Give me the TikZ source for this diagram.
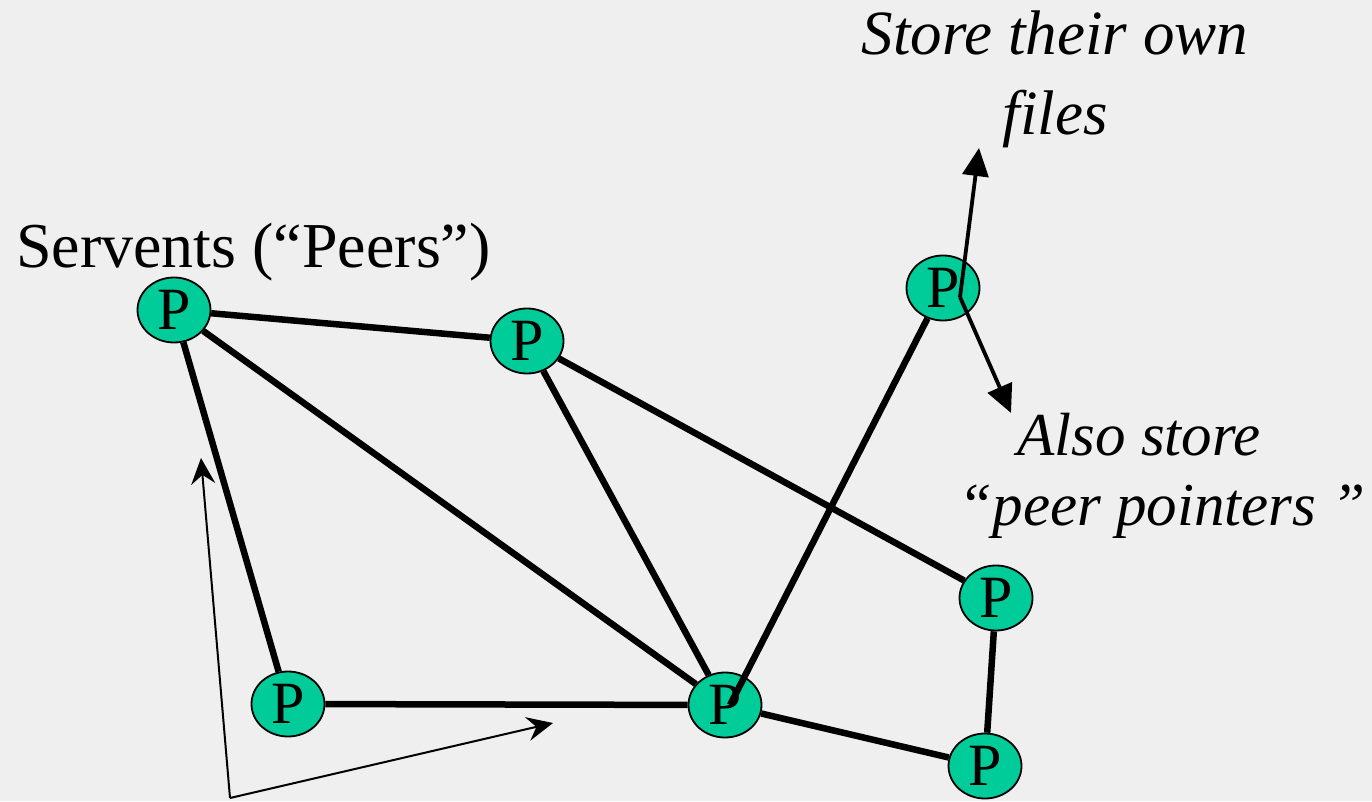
\documentclass[tikz,border=0pt]{standalone}
\usepackage{fontspec}
\setmainfont{Liberation Serif}
\newfontfamily\tnr{Liberation Serif}
\usetikzlibrary{arrows.meta,calc,shapes.geometric}
\definecolor{bgc}{HTML}{EFEFEF}
\definecolor{peer}{HTML}{00CC99}
\tikzset{
  peernode/.style={ellipse, draw=black, line width=1.8pt, fill=peer, inner sep=0pt,
    minimum width=73pt, minimum height=65pt, font=\tnr\fontsize{60}{60}\selectfont},
  link/.style={line width=6.5pt},
  callout/.style={line width=3.8pt, -{Triangle[length=28pt,width=26pt]}},
  thinarrow/.style={line width=2pt, -{Stealth[length=26pt,width=24pt,inset=9pt]}},
  notetext/.style={inner sep=0pt, font=\tnr\fontsize{63}{80}\selectfont\itshape, align=center}
}
\begin{document}
\begin{tikzpicture}[x=1pt,y=1pt]
\fill[bgc] (0,0) rectangle (1372,801);
\useasboundingbox (0,0) rectangle (1372,801);

\node[peernode] (A) at (174,491) {P};
\node[peernode] (B) at (527,460) {P};
\node[peernode] (C) at (943,513) {P};
\node[peernode] (D) at (288,97) {P};
\node[peernode] (E) at (725,96) {P};
\node[peernode] (F) at (996,203) {P};
\node[peernode] (G) at (985,35) {P};

\draw[link] (A) -- (B);
\draw[link] (A) -- (D);
\draw[link] (A) -- (E);
\draw[link] (B) -- (E);
\draw[link] (B) -- (F);
\draw[link] (C) -- ([shift={(5pt,0pt)}]E.center);
\draw[link] (D) -- (E);
\draw[link] (E) -- (G);
\draw[link] (F) -- (G);

\coordinate (cs) at (960,504);
\coordinate (up) at (979,653);
\coordinate (dn) at (1011,388);
\draw[callout] (cs) -- (up);
\draw[callout] (cs) -- (dn);

\coordinate (bs) at (230,3);
\coordinate (bt1) at (201,343);
\coordinate (bt2) at (553,78);
\draw[thinarrow] (bs) -- (bt1);
\draw[thinarrow] (bs) -- (bt2);

\node[inner sep=0pt, anchor=base west, font=\tnr\fontsize{64}{80}\selectfont] (serv) at (16,533) {Servents (“Peers”)};
\node[notetext, anchor=base] (store) at (1055,666) {Store their own\\files};
\node[notetext, anchor=base, font=\tnr\fontsize{61}{70}\selectfont\itshape] (also) at (1162,276) {Also store\hspace*{46pt}\\“peer pointers ”};
\end{tikzpicture}
\end{document}
